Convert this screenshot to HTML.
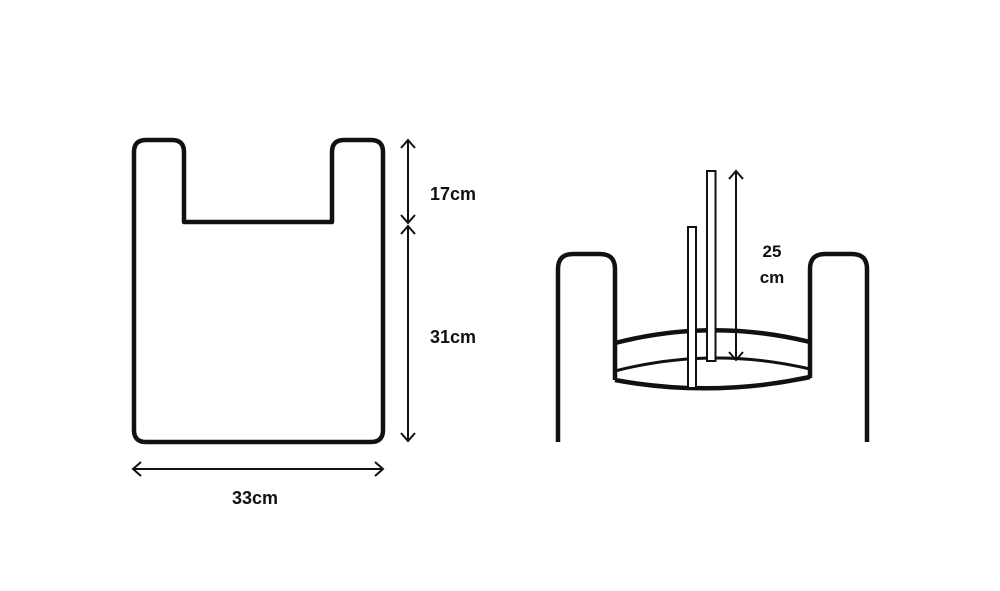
<!DOCTYPE html>
<html><head><meta charset="utf-8"><style>
html,body{margin:0;padding:0;background:#fff;}
svg{display:block;}
text{font-family:"Liberation Sans",sans-serif;font-weight:bold;fill:#111;}
</style></head><body>
<svg width="1000" height="591" viewBox="0 0 1000 591">
<g fill="none" stroke="#111" stroke-width="4.5" stroke-linejoin="round">
<path d="M134 430 V152 Q134 140 146 140 H172 Q184 140 184 152 V222 H332 V152 Q332 140 344 140 H371 Q383 140 383 152 V430 Q383 442 371 442 H146 Q134 442 134 430 Z"/>
</g>
<g fill="none" stroke="#111" stroke-width="2">
<line x1="408" y1="140" x2="408" y2="223"/>
<polyline points="401,148 408,140 415,148"/>
<polyline points="401,215 408,223 415,215"/>
<line x1="408" y1="226" x2="408" y2="441"/>
<polyline points="401,234 408,226 415,234"/>
<polyline points="401,433 408,441 415,433"/>
<line x1="133" y1="469" x2="383" y2="469"/>
<polyline points="141,462 133,469 141,476"/>
<polyline points="375,462 383,469 375,476"/>
</g>
<text x="430" y="200" font-size="18">17cm</text>
<text x="430" y="343" font-size="18">31cm</text>
<text x="232" y="504" font-size="18">33cm</text>
<g fill="none" stroke="#111" stroke-width="4.5" stroke-linejoin="round">
<path d="M558 442 V269 Q558 254 573 254 H600 Q615 254 615 269 V380"/>
<path d="M867 442 V269 Q867 254 852 254 H825 Q810 254 810 269 V378"/>
<path d="M615 343 Q712 318 810 342"/>
<path d="M615 380 Q712 398 810 377"/>
</g>
<path d="M615 371 Q712 346 810 369" fill="none" stroke="#111" stroke-width="3"/>
<rect x="688" y="227" width="8" height="161" fill="#fff" stroke="#111" stroke-width="2"/>
<rect x="707" y="171" width="8.5" height="190" fill="#fff" stroke="#111" stroke-width="2"/>
<g fill="none" stroke="#111" stroke-width="2">
<line x1="736" y1="171" x2="736" y2="360"/>
<polyline points="729,179 736,171 743,179"/>
<polyline points="729,352 736,360 743,352"/>
</g>
<text x="772" y="257" font-size="17" text-anchor="middle">25</text>
<text x="772" y="283" font-size="17" text-anchor="middle">cm</text>
</svg>
</body></html>
